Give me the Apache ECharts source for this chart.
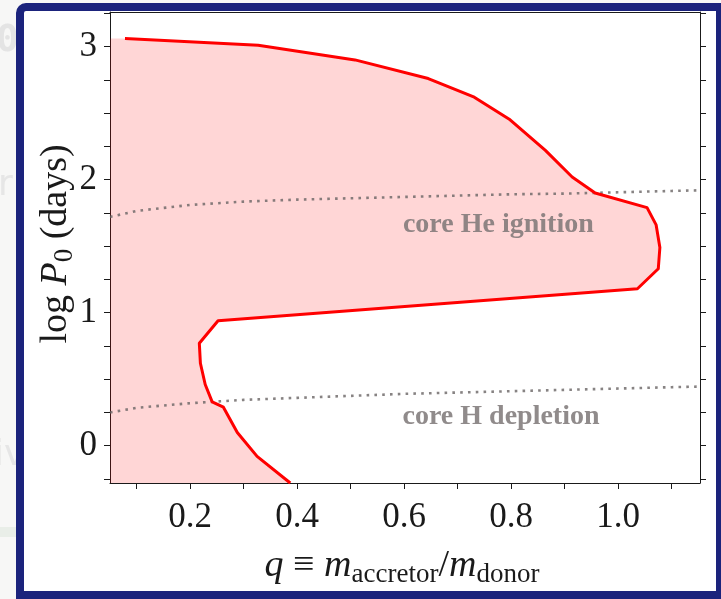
<!DOCTYPE html>
<html>
<head>
<meta charset="utf-8">
<script src="https://cdn.jsdelivr.net/npm/echarts@6.0.0/dist/echarts.min.js"></script>
<style>
  html, body { margin: 0; padding: 0; background: #f7f7f6; }
  #chart { width: 721px; height: 599px; }
</style>
</head>
<body>
<div id="chart"></div>
<script>
// Mass-ratio boundary of the stable mass-transfer region (q, log P0)
const boundaryQ    = [0.078, 0.327, 0.508, 0.645, 0.731, 0.798, 0.864, 0.914, 0.957, 1.054, 1.071, 1.078, 1.075, 1.036,
                      0.252, 0.217, 0.219, 0.228, 0.241, 0.262, 0.288, 0.325, 0.387];
const boundaryLogP = [3.06, 3.01, 2.90, 2.76, 2.62, 2.45, 2.22, 2.02, 1.90, 1.79, 1.66, 1.49, 1.33, 1.18,
                      0.94, 0.77, 0.62, 0.46, 0.33, 0.29, 0.10, -0.08, -0.28];

// Evolutionary markers (dotted guide curves)
const markerQ     = [0.05, 0.1, 0.2, 0.3, 0.4, 0.5, 0.6, 0.7, 0.8, 0.9, 1.0, 1.1, 1.153];
const heIgnition  = [1.72, 1.765, 1.81, 1.835, 1.85, 1.86, 1.87, 1.88, 1.89, 1.895, 1.905, 1.915, 1.92];
const hDepletion  = [0.25, 0.285, 0.32, 0.345, 0.36, 0.375, 0.39, 0.40, 0.41, 0.42, 0.43, 0.44, 0.445];

// Annotation labels
const noteText = ['core He ignition', 'core H depletion'];
const noteQ    = [0.776, 0.781];
const noteLogP = [1.66, 0.22];

// Tick values
const xLabelTicks = [0.2, 0.4, 0.6, 0.8, 1.0];
const xMinorTicks = [0.1, 0.2, 0.3, 0.4, 0.5, 0.6, 0.7, 0.8, 0.9, 1.0, 1.1];
const yLabelTicks = [0, 1, 2, 3];
const yMinorTicks = [-0.25, 0, 0.25, 0.5, 0.75, 1, 1.25, 1.5, 1.75, 2, 2.25, 2.5, 2.75, 3, 3.25];

const X_MIN = 0.05, X_MAX = 1.153;
const Y_MIN = -0.28, Y_MAX = 3.26;

const SERIF = '"Liberation Serif", "Times New Roman", serif';
const INK = '#1a1a1a';

const chart = echarts.init(document.getElementById('chart'), null, { renderer: 'canvas' });

const zip = (a, b) => a.map((v, i) => [v, b[i]]);

const axisCommon = {
  type: 'value',
  axisLine: { show: true, onZero: false, lineStyle: { color: INK, width: 1 } },
  splitLine: { show: false },
};

const titleRich = {
  i: { fontFamily: SERIF, fontStyle: 'italic', fontSize: 38, lineHeight: 44, fill: INK },
  o: { fontFamily: SERIF, fontSize: 38, lineHeight: 44, fill: INK },
  s: { fontFamily: SERIF, fontSize: 27, lineHeight: 22, verticalAlign: 'bottom', fill: INK }
};

const option = {
  backgroundColor: 'transparent',
  animation: false,
  grid: { left: 110, right: 21, top: 12, bottom: 116, containLabel: false },
  xAxis: [
    Object.assign({}, axisCommon, {
      min: X_MIN, max: X_MAX, position: 'bottom',
      axisTick: { show: true, inside: false, length: 6, customValues: xMinorTicks, lineStyle: { color: INK } },
      axisLabel: { show: true, customValues: xLabelTicks, margin: 17, fontFamily: SERIF, fontSize: 35, color: INK,
                   formatter: v => v.toFixed(1) }
    }),
    Object.assign({}, axisCommon, {
      min: X_MIN, max: X_MAX, position: 'top',
      axisTick: { show: false }, axisLabel: { show: false }
    })
  ],
  yAxis: [
    Object.assign({}, axisCommon, {
      min: Y_MIN, max: Y_MAX, position: 'left',
      axisTick: { show: true, inside: false, length: 6, customValues: yMinorTicks, lineStyle: { color: INK } },
      axisLabel: { show: true, customValues: yLabelTicks, margin: 13, fontFamily: SERIF, fontSize: 35, color: INK,
                   formatter: v => String(v) }
    }),
    Object.assign({}, axisCommon, {
      min: Y_MIN, max: Y_MAX, position: 'right',
      axisTick: { show: true, inside: false, length: 6, customValues: yMinorTicks, lineStyle: { color: INK } },
      axisLabel: { show: false }
    })
  ],
  graphic: [
    // faint page content around the framed figure
    { type: 'text', left: -4, top: 22, z: -20, style: { text: '0', font: 'bold 38px "DejaVu Sans Mono"', fill: '#e4e4e4' } },
    { type: 'text', left: -2, top: 168, z: -20, style: { text: 'r', font: '36px "DejaVu Sans"', fill: '#e6e6e6' } },
    { type: 'text', left: -6, top: 438, z: -20, style: { text: 'iv', font: '36px "DejaVu Sans"', fill: '#e6e6e6' } },
    { type: 'rect', z: -20, shape: { x: 0, y: 527, width: 18, height: 10 }, style: { fill: '#e9eee8' } },
    // navy frame
    { type: 'rect', z: -10, shape: { x: 20, y: 7, width: 700, height: 588, r: [6, 0, 0, 0] },
      style: { fill: '#ffffff', stroke: '#1b237c', lineWidth: 8 } },
    // axis titles
    { type: 'text', z: 10, x: 402, y: 566,
      style: {
        text: '{i|q}{o| ≡ }{i|m}{s|accretor}{o|/}{i|m}{s|donor}',
        align: 'center', verticalAlign: 'middle', fill: INK, rich: titleRich
      }
    },
    { type: 'text', z: 10, x: 56, y: 244, rotation: Math.PI / 2,
      style: {
        text: '{o|log }{i|P}{s|0}{o| (days)}',
        align: 'center', verticalAlign: 'middle', fill: INK, rich: titleRich
      }
    }
  ],
  series: [
    {
      // shaded region to the left of the boundary
      type: 'custom',
      coordinateSystem: 'cartesian2d',
      clip: true,
      z: 1,
      data: [[boundaryQ[0], boundaryLogP[0]]],
      renderItem: (params, api) => {
        const pts = [api.coord([X_MIN, Y_MIN]), api.coord([X_MIN, boundaryLogP[0]])];
        boundaryQ.forEach((q, i) => pts.push(api.coord([q, boundaryLogP[i]])));
        pts.push(api.coord([boundaryQ[boundaryQ.length - 1], Y_MIN]));
        return { type: 'polygon', shape: { points: pts }, style: { fill: 'rgba(255,0,0,0.16)' } };
      }
    },
    {
      type: 'line', name: 'core He ignition', data: zip(markerQ, heIgnition),
      showSymbol: false, z: 3, clip: true,
      lineStyle: { color: 'rgba(105,100,100,0.8)', width: 2.6, type: [2.6, 5.2] }
    },
    {
      type: 'line', name: 'core H depletion', data: zip(markerQ, hDepletion),
      showSymbol: false, z: 3, clip: true,
      lineStyle: { color: 'rgba(105,100,100,0.8)', width: 2.6, type: [2.6, 5.2] }
    },
    {
      type: 'line', name: 'boundary', data: zip(boundaryQ, boundaryLogP),
      showSymbol: false, z: 5, clip: true,
      lineStyle: { color: '#ff0000', width: 3, join: 'round' }
    },
    {
      type: 'custom', coordinateSystem: 'cartesian2d', z: 6,
      data: noteText.map((t, i) => [noteQ[i], noteLogP[i], t]),
      renderItem: (params, api) => {
        const p = api.coord([api.value(0), api.value(1)]);
        return {
          type: 'text', x: p[0], y: p[1],
          style: {
            text: noteText[params.dataIndex],
            font: 'bold 28px ' + SERIF, fill: 'rgba(120,114,114,0.82)',
            align: 'center', verticalAlign: 'middle'
          }
        };
      }
    }
  ]
};

chart.setOption(option);
</script>
</body>
</html>
